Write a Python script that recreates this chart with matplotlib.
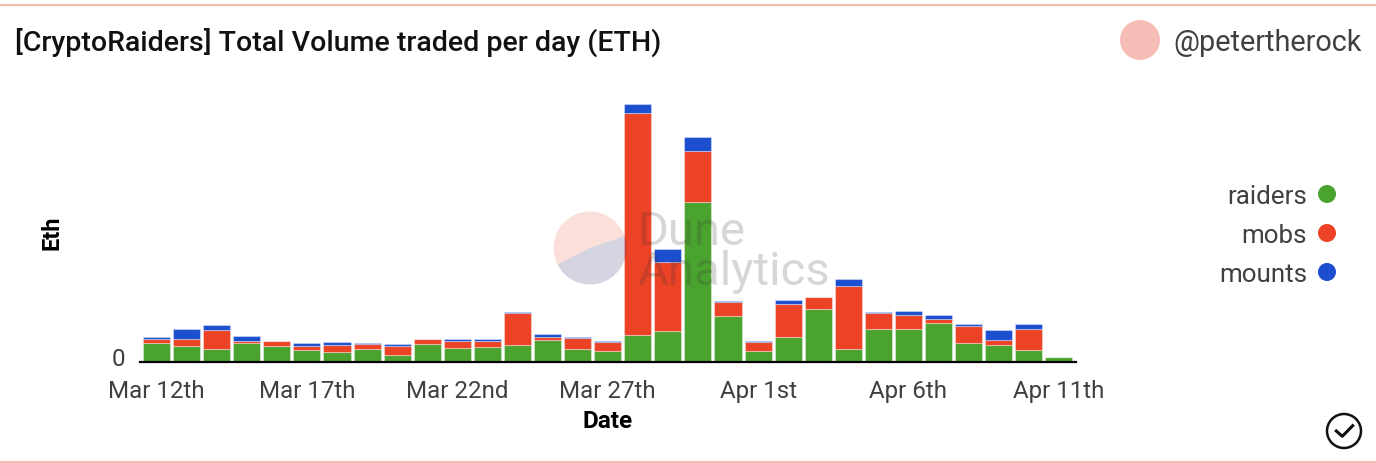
import matplotlib
matplotlib.use("Agg")
import matplotlib.pyplot as plt
from matplotlib.patches import Circle, Wedge
from matplotlib.transforms import ScaledTranslation

plt.rcParams['font.family'] = ['Roboto', 'DejaVu Sans']

# values, no scale is given on the y axis
raiders = [19.3, 16.3, 12.7, 18.7, 15.7, 12.3, 10.3, 13, 7.3, 18.3, 14.3, 15.3, 16.7, 21.7, 12.7, 11.5,
           27, 31.3, 159.7, 46.3, 11.3, 24.7, 52.7, 12.7, 33, 33, 39.3, 19, 17, 12.3, 5.3]
mobs = [3.7, 7, 19.3, 2, 5.3, 4, 6.3, 5.3, 8.7, 4.7, 7, 5.3, 32, 3, 11.7, 8.5,
        221.7, 68.7, 51.7, 13.3, 8.3, 33.3, 12.7, 63.7, 16, 13.7, 4, 17.3, 5.3, 20.3, 0]
mounts = [2, 9.7, 5, 5.3, 0, 2.3, 3, 0.3, 2, 0, 1.3, 2.3, 1.3, 3, 0.7, 1,
          9.3, 13.3, 13.3, 1, 1.3, 4, 0, 6.3, 1.3, 4, 3.3, 1.3, 9.7, 5.3, 0]
tick_pos = [0, 5, 10, 15, 20, 25, 30]
tick_labels = ["Mar 12th", "Mar 17th", "Mar 22nd", "Mar 27th", "Apr 1st", "Apr 6th", "Apr 11th"]
series_names = ["raiders", "mobs", "mounts"]
series_colors = ["#4ba32f", "#ec4226", "#1c4fd0"]

W, H = 1376, 464
fig = plt.figure(figsize=(W / 100, H / 100), dpi=100)

# plot area, placed in pixels: x 140..1076, y 99..363
ax = fig.add_axes([140 / W, (H - 363) / H, 936 / W, 264 / H])
x = list(range(len(raiders)))
bottom2 = [a + b for a, b in zip(raiders, mobs)]
edge = (1, 1, 1, 0.35)
ax.bar(x, raiders, width=0.9, color=series_colors[0], edgecolor=edge, linewidth=0.8)
ax.bar(x, mobs, width=0.9, bottom=raiders, color=series_colors[1], edgecolor=edge, linewidth=0.8)
ax.bar(x, mounts, width=0.9, bottom=bottom2, color=series_colors[2], edgecolor=edge, linewidth=0.8)
ax.set_xlim(-0.55, 30.57)
ax.set_ylim(0, 264)
for s in ["top", "right", "left"]:
    ax.spines[s].set_visible(False)
ax.spines["bottom"].set_linewidth(1.6)
ax.spines["bottom"].set_color("black")
ax.set_xticks(tick_pos)
ax.set_xticklabels(tick_labels, fontsize=17.4, color="#404040")
ax.set_yticks([0])
ax.set_yticklabels(["0"], fontsize=17.4, color="#404040")
ax.tick_params(axis="x", length=0, pad=12.5)
ax.tick_params(axis="y", length=0, pad=11)
# the 0 sits a little above the axis line
for lab in ax.get_yticklabels():
    lab.set_transform(lab.get_transform() + ScaledTranslation(0, 0.06, fig.dpi_scale_trans))
ax.set_xlabel("Date", fontsize=17.5, fontweight="bold", labelpad=5)
ax.set_ylabel("Eth", fontsize=17, fontweight="bold")
ax.yaxis.set_label_coords(-0.082, 0.495)

# overlay in pixel coordinates for the card, watermark and legend
ov = fig.add_axes([0, 0, 1, 1], facecolor="none")
ov.set_xlim(0, W)
ov.set_ylim(H, 0)
ov.axis("off")

ov.plot([0, W], [5.5, 5.5], color="#f5bdb6", lw=1.6)
ov.plot([0, W], [462.5, 462.5], color="#f5bdb6", lw=1.6)
ov.text(15, 42, "[CryptoRaiders] Total Volume traded per day (ETH)", fontsize=20.5, fontweight="medium",
        color="#111111", va="center", ha="left")
ov.add_patch(Circle((1140, 41), 20, color="#f5bdb6", lw=0))
ov.text(1362, 43, "@petertherock", fontsize=20.8, color="#404040", va="center", ha="right")

# watermark
ov.add_patch(Wedge((590, 249), 36.5, 153, 341, color="#ec4226", alpha=0.17, lw=0))
ov.add_patch(Wedge((590, 249), 36.5, -19, 153, color="#2b2f6b", alpha=0.2, lw=0))
ov.text(637, 252, "Dune\nAnalytics", fontsize=34, color="#333333", alpha=0.2, va="center", ha="left",
        linespacing=0.9)

# legend
for name, col, py in zip(series_names, series_colors, [195, 234, 273]):
    ov.text(1307, py + 2, name, fontsize=18.7, color="#404040", va="center", ha="right")
    ov.add_patch(Circle((1327, py), 9, color=col, lw=0))

# check icon
ov.add_patch(Circle((1344, 432), 17, fc="none", ec="#111111", lw=1.8))
ov.plot([1336.3, 1342.3, 1352.7], [432, 437.3, 426.7], color="#111111", lw=2.2)

fig.savefig("out.png", dpi=100)
